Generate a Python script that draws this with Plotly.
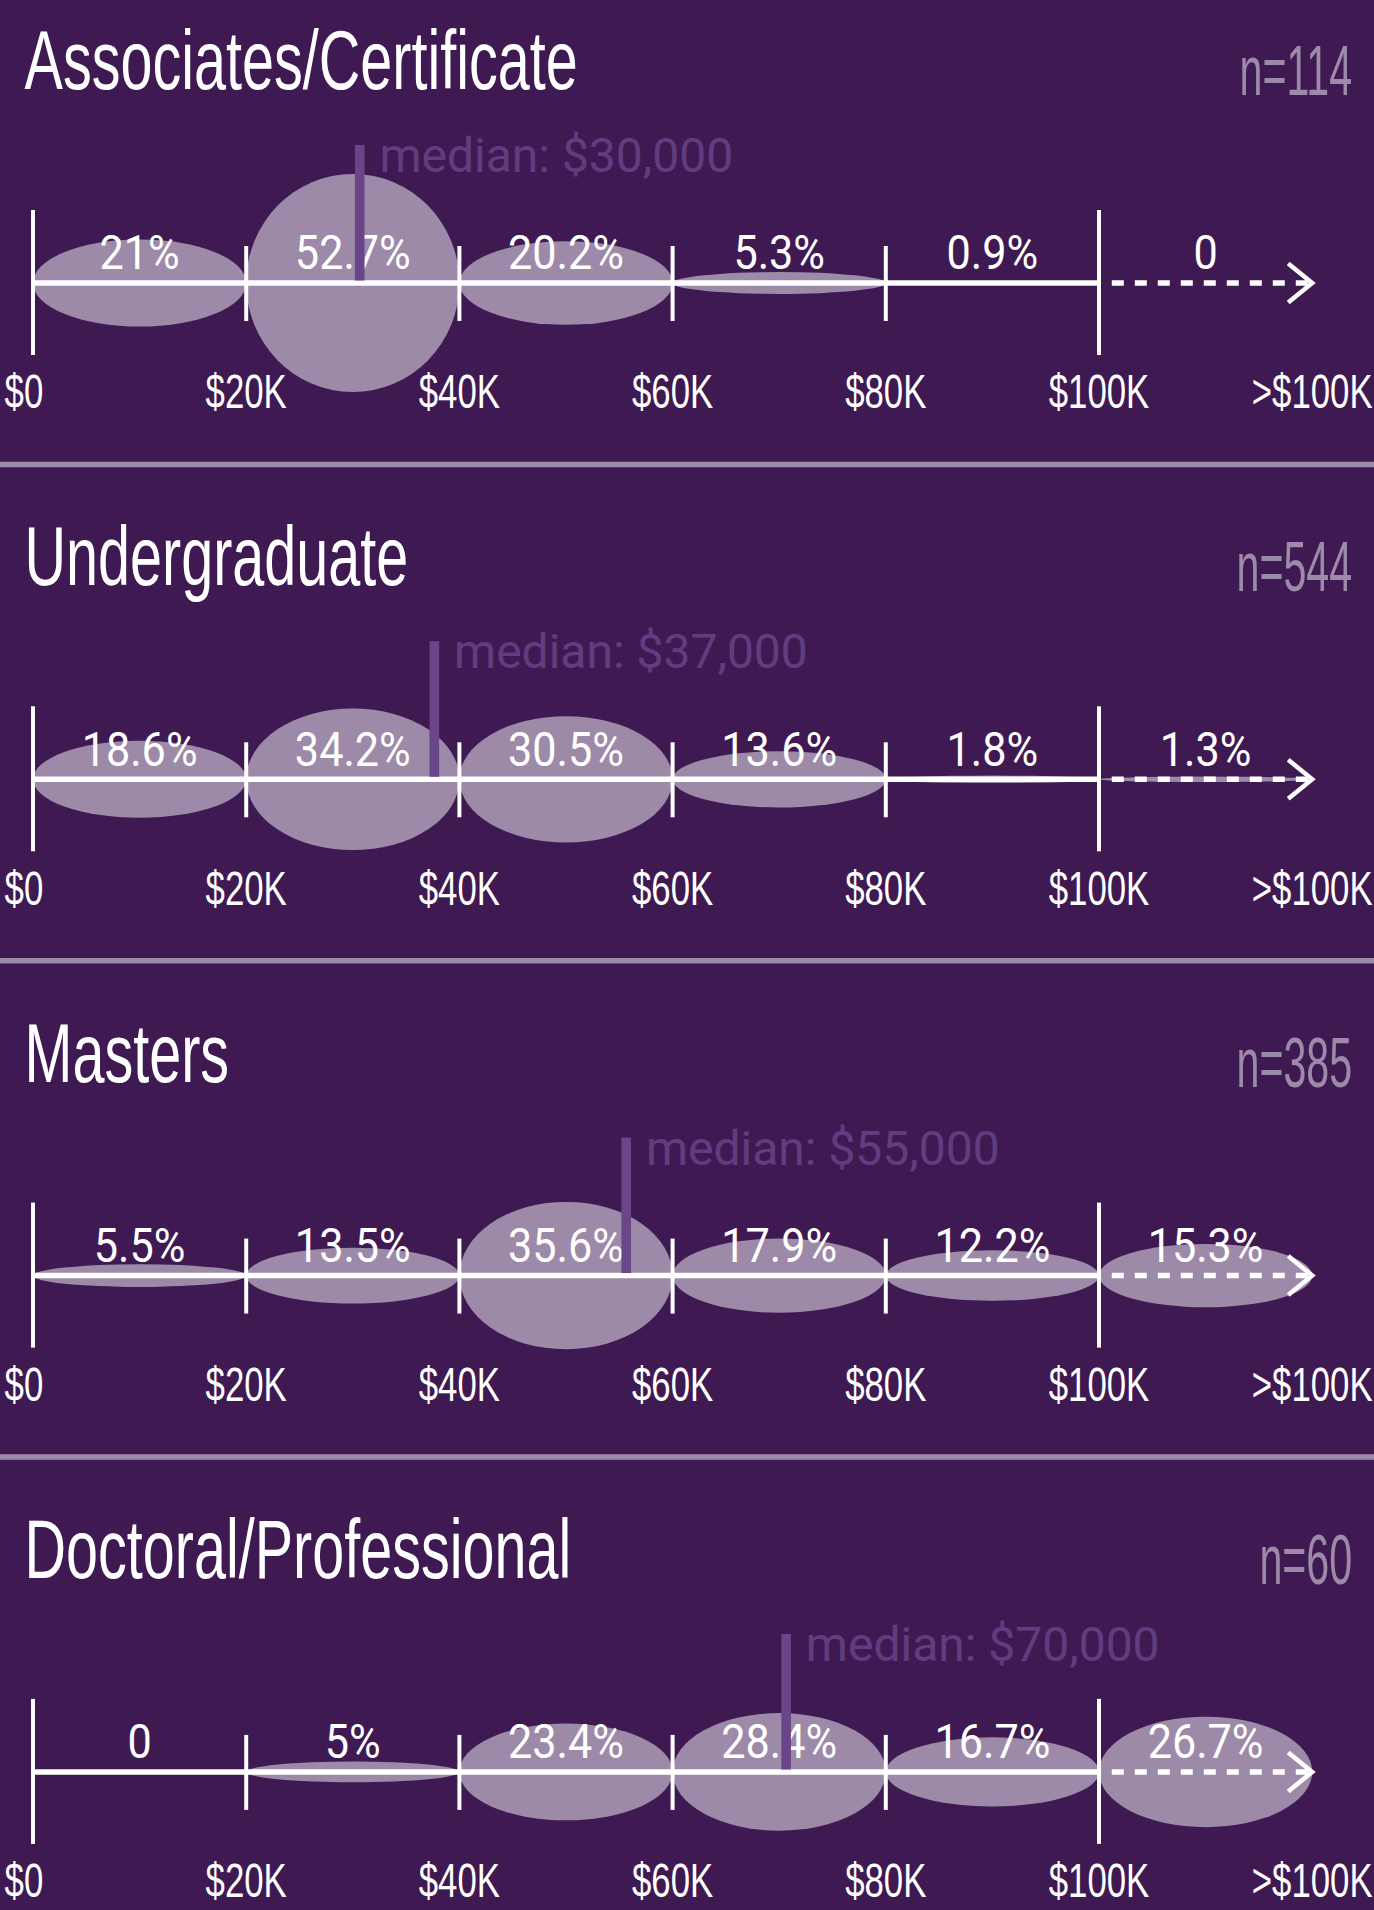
import plotly.graph_objects as go

# ---------------- data ----------------
categories = ["Associates/Certificate", "Undergraduate", "Masters", "Doctoral/Professional"]
sample_sizes = [114, 544, 385, 60]
median_salary = [30000, 37000, 55000, 70000]
bin_edges_k = [0, 20, 40, 60, 80, 100, 120]
tick_labels = ["$0", "$20K", "$40K", "$60K", "$80K", "$100K", ">$100K"]
associates_pct = [21, 52.7, 20.2, 5.3, 0.9, 0]
undergraduate_pct = [18.6, 34.2, 30.5, 13.6, 1.8, 1.3]
masters_pct = [5.5, 13.5, 35.6, 17.9, 12.2, 15.3]
doctoral_pct = [0, 5, 23.4, 28.4, 16.7, 26.7]
series = [associates_pct, undergraduate_pct, masters_pct, doctoral_pct]

# ---------------- style ----------------
W, H = 1374, 1910
BG = "#3f1a52"
ELL = "#9d8aa8"
MED_BAR = "#6b4589"
MED_TXT = "#5f3e80"
WHITE = "#ffffff"
COND = "Liberation Sans, Arial, sans-serif"   # horizontally condensed via post script
HUMAN = "Roboto, Noto Sans, sans-serif"

PX_PER_K = 10.66
X0_PX = 33
X_RANGE = [-X0_PX / PX_PER_K, (W - X0_PX) / PX_PER_K]
BASE0 = 283
PITCH = 496.3
PX_PER_PCT = 2.07

fig = go.Figure()
shapes = []


def fmt(v):
    return "0" if v == 0 else f"{v:g}%"


def text_trace(x, y, text, pos, color, size, family, sx=None):
    return go.Scatter(x=x, y=y, mode="text", text=text, textposition=pos,
                      textfont=dict(color=color, size=size, family=family),
                      meta=dict(sx=sx) if sx else None,
                      hoverinfo="skip", showlegend=False)


for i, (cat, n, med, pcts) in enumerate(zip(categories, sample_sizes, median_salary, series)):
    base = BASE0 + i * PITCH
    lows = bin_edges_k[:-1]
    highs = bin_edges_k[1:]
    centers = [(a + b) / 2 for a, b in zip(lows, highs)]

    # ellipses (area proportional to share)
    for lo, hi, p in zip(lows, highs, pcts):
        h = p * PX_PER_PCT
        if h < 0.5:
            continue
        shapes.append(dict(type="circle", xref="x", yref="y", x0=lo, x1=hi,
                           y0=base - h, y1=base + h, fillcolor=ELL,
                           line=dict(width=0), layer="below"))

    # solid axis line
    fig.add_trace(go.Scatter(x=[bin_edges_k[0], bin_edges_k[-2]], y=[base, base], mode="lines",
                             line=dict(color=WHITE, width=5.5), hoverinfo="skip", showlegend=False))
    # dashed open-ended part
    fig.add_trace(go.Scatter(x=[bin_edges_k[-2] + 1.2, bin_edges_k[-1] - 0.4], y=[base, base],
                             mode="lines", line=dict(color=WHITE, width=5.5, dash="12px,11px"),
                             hoverinfo="skip", showlegend=False))
    # arrow head
    tip = bin_edges_k[-1]
    fig.add_trace(go.Scatter(x=[tip - 2.25, tip, tip - 2.25], y=[base - 19.5, base, base + 19.5],
                             mode="lines", line=dict(color=WHITE, width=4.5),
                             hoverinfo="skip", showlegend=False))
    # ticks
    tx, ty = [], []
    for j, e in enumerate(bin_edges_k[:-1]):
        long_tick = (j == 0 or j == len(bin_edges_k) - 2)
        up, down = (73, 72) if long_tick else (37, 38)
        tx += [e, e, None]
        ty += [base - up, base + down, None]
    fig.add_trace(go.Scatter(x=tx, y=ty, mode="lines", line=dict(color=WHITE, width=4),
                             hoverinfo="skip", showlegend=False))

    # percentage labels
    fig.add_trace(text_trace(centers, [base - 25.5] * len(centers), [fmt(p) for p in pcts],
                             "middle center", WHITE, 48, HUMAN, sx=0.9))

    # tick labels
    lx = list(bin_edges_k)
    lx[0] = bin_edges_k[0] - 0.85
    fig.add_trace(text_trace(lx, [base + 113] * len(lx), tick_labels,
                             "middle center", WHITE, 49, COND, sx=0.71))

    # median bar + label
    mk = med / 1000
    shapes.append(dict(type="rect", xref="x", yref="y", x0=mk + 0.2, x1=mk + 1.1,
                       y0=base - 138, y1=base - 2.5, fillcolor=MED_BAR,
                       line=dict(width=0), layer="above"))
    fig.add_trace(text_trace([mk + 2.5], [base - 123], [f"median: ${med:,}"],
                             "middle right", MED_TXT, 48, HUMAN))

    # title and sample size
    fig.add_trace(text_trace([X_RANGE[0] + 2.3], [base - 215], [cat],
                             "middle right", WHITE, 84, COND, sx=0.685))
    fig.add_trace(text_trace([X_RANGE[1] - 2.05], [base - 206], [f"n={n}"],
                             "middle left", ELL, 71, COND, sx=0.58))

    # separator
    sep = base + 181.5
    if sep < H:
        shapes.append(dict(type="line", xref="paper", yref="y", x0=0, x1=1, y0=sep, y1=sep,
                           line=dict(color=ELL, width=5.5), layer="below"))

fig.update_layout(
    width=W, height=H,
    margin=dict(l=0, r=0, t=0, b=0),
    paper_bgcolor=BG, plot_bgcolor=BG,
    xaxis=dict(range=X_RANGE, visible=False, fixedrange=True),
    yaxis=dict(range=[H, 0], visible=False, fixedrange=True),
    shapes=shapes,
    showlegend=False,
)

# Condense some labels horizontally (the reference uses a condensed typeface)
POST = """
document.body.style.margin = '0';
document.body.style.padding = '0';
var gd = document.getElementById('{plot_id}');
gd.querySelectorAll('.scatterlayer .trace').forEach(function (g) {
  var cd = g.__data__;
  var tr = cd && cd[0] && cd[0].trace;
  var meta = tr && (tr.meta || (tr._input && tr._input.meta));
  var sx = meta && meta.sx;
  if (!sx) return;
  g.querySelectorAll('text').forEach(function (t) {
    var x = parseFloat(t.getAttribute('x')) || 0;
    var old = t.getAttribute('transform') || '';
    t.setAttribute('transform',
      'translate(' + (x * (1 - sx)).toFixed(3) + ',0) scale(' + sx + ',1) ' + old);
  });
});
"""

fig.write_html("out.html", config={"displayModeBar": False}, post_script=POST)
